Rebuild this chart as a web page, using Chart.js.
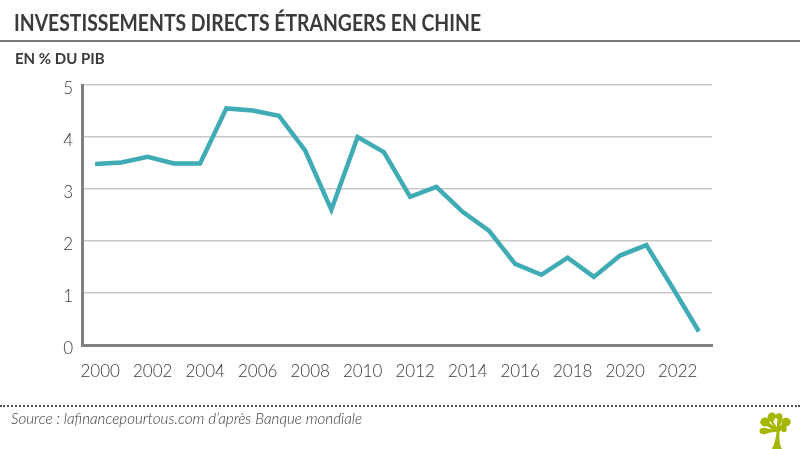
<!DOCTYPE html>
<html lang="fr">
<head>
<meta charset="utf-8">
<title>Investissements directs étrangers en Chine</title>
<script src="https://cdn.jsdelivr.net/npm/chart.js@4"></script>
<style>
  html, body { margin: 0; padding: 0; background: #fff; }
  #page { position: relative; width: 800px; height: 449px; overflow: hidden; font-family: Lato, sans-serif; color: #3a3a3a; }
  #page canvas { position: absolute; left: 0; top: 0; }
  .title { position: absolute; left: 14px; top: 8px; font-size: 22px; line-height: 30px; font-weight: 700; white-space: nowrap; transform: scaleX(0.88); transform-origin: left center; }
  .rule { position: absolute; left: 0; top: 40px; width: 800px; height: 2px; background: #777; }
  .unit { position: absolute; left: 15px; top: 48px; font-size: 15px; line-height: 20px; font-weight: 700; white-space: nowrap; }
  .dots { position: absolute; left: 0; top: 405px; width: 800px; border-top: 2px dotted #555; }
  .source { position: absolute; left: 11px; top: 409px; font-size: 15.2px; line-height: 18px; font-style: italic; font-weight: 300; white-space: nowrap; }
  .logo { position: absolute; left: 758px; top: 412px; }
</style>
</head>
<body>
<div id="page">
  <canvas id="chart" width="800" height="449"></canvas>
  <div class="title">INVESTISSEMENTS DIRECTS ÉTRANGERS EN CHINE</div>
  <div class="rule"></div>
  <div class="unit">EN % DU PIB</div>
  <div class="dots"></div>
  <div class="source">Source : lafinancepourtous.com d’après Banque mondiale</div>
  <svg class="logo" width="34" height="37" viewBox="0 0 34 37">
    <g fill="#a5b700">
      <path d="M14 37 C17 31 18 25 19 16 L22 16 C21 25 21 31 24 37 Z"/>
      <ellipse cx="6" cy="19" rx="4.5" ry="3.2"/>
      <ellipse cx="7" cy="10" rx="4.8" ry="4.4"/>
      <ellipse cx="14" cy="5" rx="4.4" ry="4.4"/>
      <ellipse cx="21" cy="5" rx="3.6" ry="3.8"/>
      <ellipse cx="28" cy="10" rx="4.8" ry="4.2"/>
      <ellipse cx="26" cy="17" rx="2.8" ry="3.2"/>
      <path d="M6 16.5 L20 17.5 L20 19.5 L6 21.5 Z"/>
      <path d="M6 7 L21 18 L19 20 L7 13 Z"/>
      <path d="M11 4 L21 18 L19 18 L11 8 Z"/>
      <path d="M19 4 L24 6 L21 19 L19 18 Z"/>
      <path d="M28 7 L30 13 L21 20 L19 18 Z"/>
    </g>
    <path d="M16 8 L18 5.5 L20 8 L18 10.5 Z" fill="#fff"/>
  </svg>
</div>
<script>
const years = ["2000", "2001", "2002", "2003", "2004", "2005", "2006", "2007", "2008", "2009", "2010", "2011",
  "2012", "2013", "2014", "2015", "2016", "2017", "2018", "2019", "2020", "2021", "2022", "2023"];
const fdiShare = [3.48, 3.51, 3.62, 3.49, 3.49, 4.55, 4.51, 4.41, 3.74, 2.6, 4.0, 3.71,
  2.85, 3.04, 2.56, 2.2, 1.56, 1.35, 1.68, 1.31, 1.72, 1.92, 1.1, 0.26];
const yTicks = [0, 1, 2, 3, 4, 5];

const tickFont = { family: "Lato", size: 17, weight: "300" };

new Chart(document.getElementById("chart"), {
  type: "line",
  data: {
    labels: years,
    datasets: [{
      data: fdiShare,
      borderColor: "#3eabb5",
      borderWidth: 4.5,
      pointRadius: 0,
      tension: 0,
      borderJoinStyle: "miter",
      borderCapStyle: "butt",
    }],
  },
  options: {
    responsive: false,
    animation: false,
    layout: { padding: { top: 85, right: 88, bottom: 65, left: 0 } },
    plugins: { legend: { display: false }, tooltip: { enabled: false } },
    scales: {
      x: {
        offset: true,
        grid: { display: false },
        border: { color: "#808080", width: 3 },
        afterFit: (scale) => { scale.height = 39; },
        ticks: {
          autoSkip: false,
          maxRotation: 0,
          padding: 8,
          labelOffset: 5,
          color: "#3a3a3a",
          font: tickFont,
          callback: (value, i) => (i % 2 === 0 ? years[i] : ""),
        },
      },
      y: {
        min: 0,
        max: 5,
        afterBuildTicks: (scale) => { scale.ticks = yTicks.map((value) => ({ value })); },
        afterFit: (scale) => { scale.width = 82; },
        grid: { color: "#c9c9c9", lineWidth: 1.5, drawTicks: false },
        border: { color: "#808080", width: 3 },
        ticks: {
          padding: 9,
          labelOffset: 4,
          color: "#3a3a3a",
          font: tickFont,
        },
      },
    },
  },
});
</script>
</body>
</html>
